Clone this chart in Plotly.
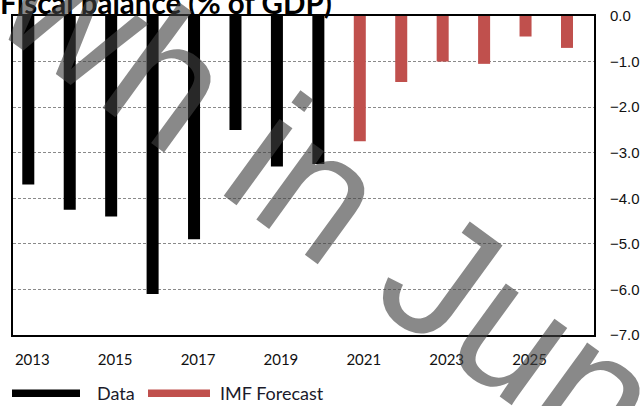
import plotly.graph_objects as go

# ---- data ----
data_years = [2013, 2014, 2015, 2016, 2017, 2018, 2019, 2020]
data_values = [-3.7, -4.25, -4.4, -6.1, -4.9, -2.5, -3.3, -3.25]
forecast_years = [2021, 2022, 2023, 2024, 2025, 2026]
forecast_values = [-2.75, -1.45, -1.0, -1.05, -0.45, -0.7]
x_tick_vals = [2013, 2015, 2017, 2019, 2021, 2023, 2025]
y_tick_vals = [0, -1, -2, -3, -4, -5, -6, -7]
title_text = "Fiscal balance (% of GDP)"
series_names = ["Data", "IMF Forecast"]
watermark_text = "wh in Jun"

W, H = 641, 406
L, R, T, B = 13, 594, 16, 335  # plot area in pixels


def px(x):
    return (x - L) / (R - L)


def py(y):
    return (B - y) / (B - T)


BLACK = "#000000"
RED = "#C0504D"

fig = go.Figure()
fig.add_bar(x=data_years, y=data_values, name=series_names[0],
            marker=dict(color=BLACK, line=dict(width=0)), width=0.29, showlegend=False)
fig.add_bar(x=forecast_years, y=forecast_values, name=series_names[1],
            marker=dict(color=RED, line=dict(width=0)), width=0.29, showlegend=False)

fig.update_layout(
    width=W, height=H,
    margin=dict(l=L, r=W - R, t=T, b=H - B, pad=0, autoexpand=False),
    paper_bgcolor="white", plot_bgcolor="white",
    barmode="overlay",
    showlegend=False,
    xaxis=dict(
        range=[2012.631, 2026.652],
        tickvals=x_tick_vals, ticktext=[str(v) for v in x_tick_vals],
        showgrid=False, zeroline=False, automargin=False,
        showline=True, linecolor="black", linewidth=2, mirror=True,
        ticks="outside", ticklen=10, tickcolor="rgba(0,0,0,0)",
        ticklabelshift=4,
        tickfont=dict(family="Lato", size=15, color="#111111"),
    ),
    yaxis=dict(
        side="right",
        range=[-7, 0],
        tickvals=y_tick_vals, tickformat=".1f",
        showgrid=True, gridcolor="#8a8a8a", gridwidth=1, griddash="3px,2px",
        zeroline=False, automargin=False,
        showline=True, linecolor="black", linewidth=2, mirror=True,
        ticks="outside", ticklen=11, tickcolor="rgba(0,0,0,0)",
        tickfont=dict(family="Liberation Sans", size=15, color="#111111"),
    ),
)

# title (partially cut off at top as in the reference)
fig.add_annotation(
    text="<b>" + title_text + "</b>", xref="paper", yref="paper",
    x=px(334), y=py(22), xanchor="right", yanchor="bottom", showarrow=False,
    font=dict(family="Lato", size=29.5, color="black"),
)

# custom legend
legend_items = [
    (series_names[0], BLACK, 12, 80, 95),
    (series_names[1], RED, 148, 210, 218),
]
for name, col, x0, x1, tx in legend_items:
    fig.add_shape(type="rect", xref="paper", yref="paper",
                  x0=px(x0), x1=px(x1), y0=py(397), y1=py(389.5),
                  fillcolor=col, line=dict(width=0))
    fig.add_annotation(text=name, xref="paper", yref="paper",
                       x=px(tx), y=py(393), xanchor="left", yanchor="middle",
                       showarrow=False,
                       font=dict(family="Lato", size=18, color="#1a1a2a"))

# watermark
fig.add_annotation(
    text=watermark_text, xref="paper", yref="paper",
    x=px(331), y=py(196), xanchor="center", yanchor="middle",
    showarrow=False, textangle=36,
    font=dict(family="Liberation Sans", size=180, color="rgba(64,64,64,0.62)"),
)

fig.write_html("out.html", config={"displayModeBar": False},
               post_script="document.body.style.margin='0px';")
